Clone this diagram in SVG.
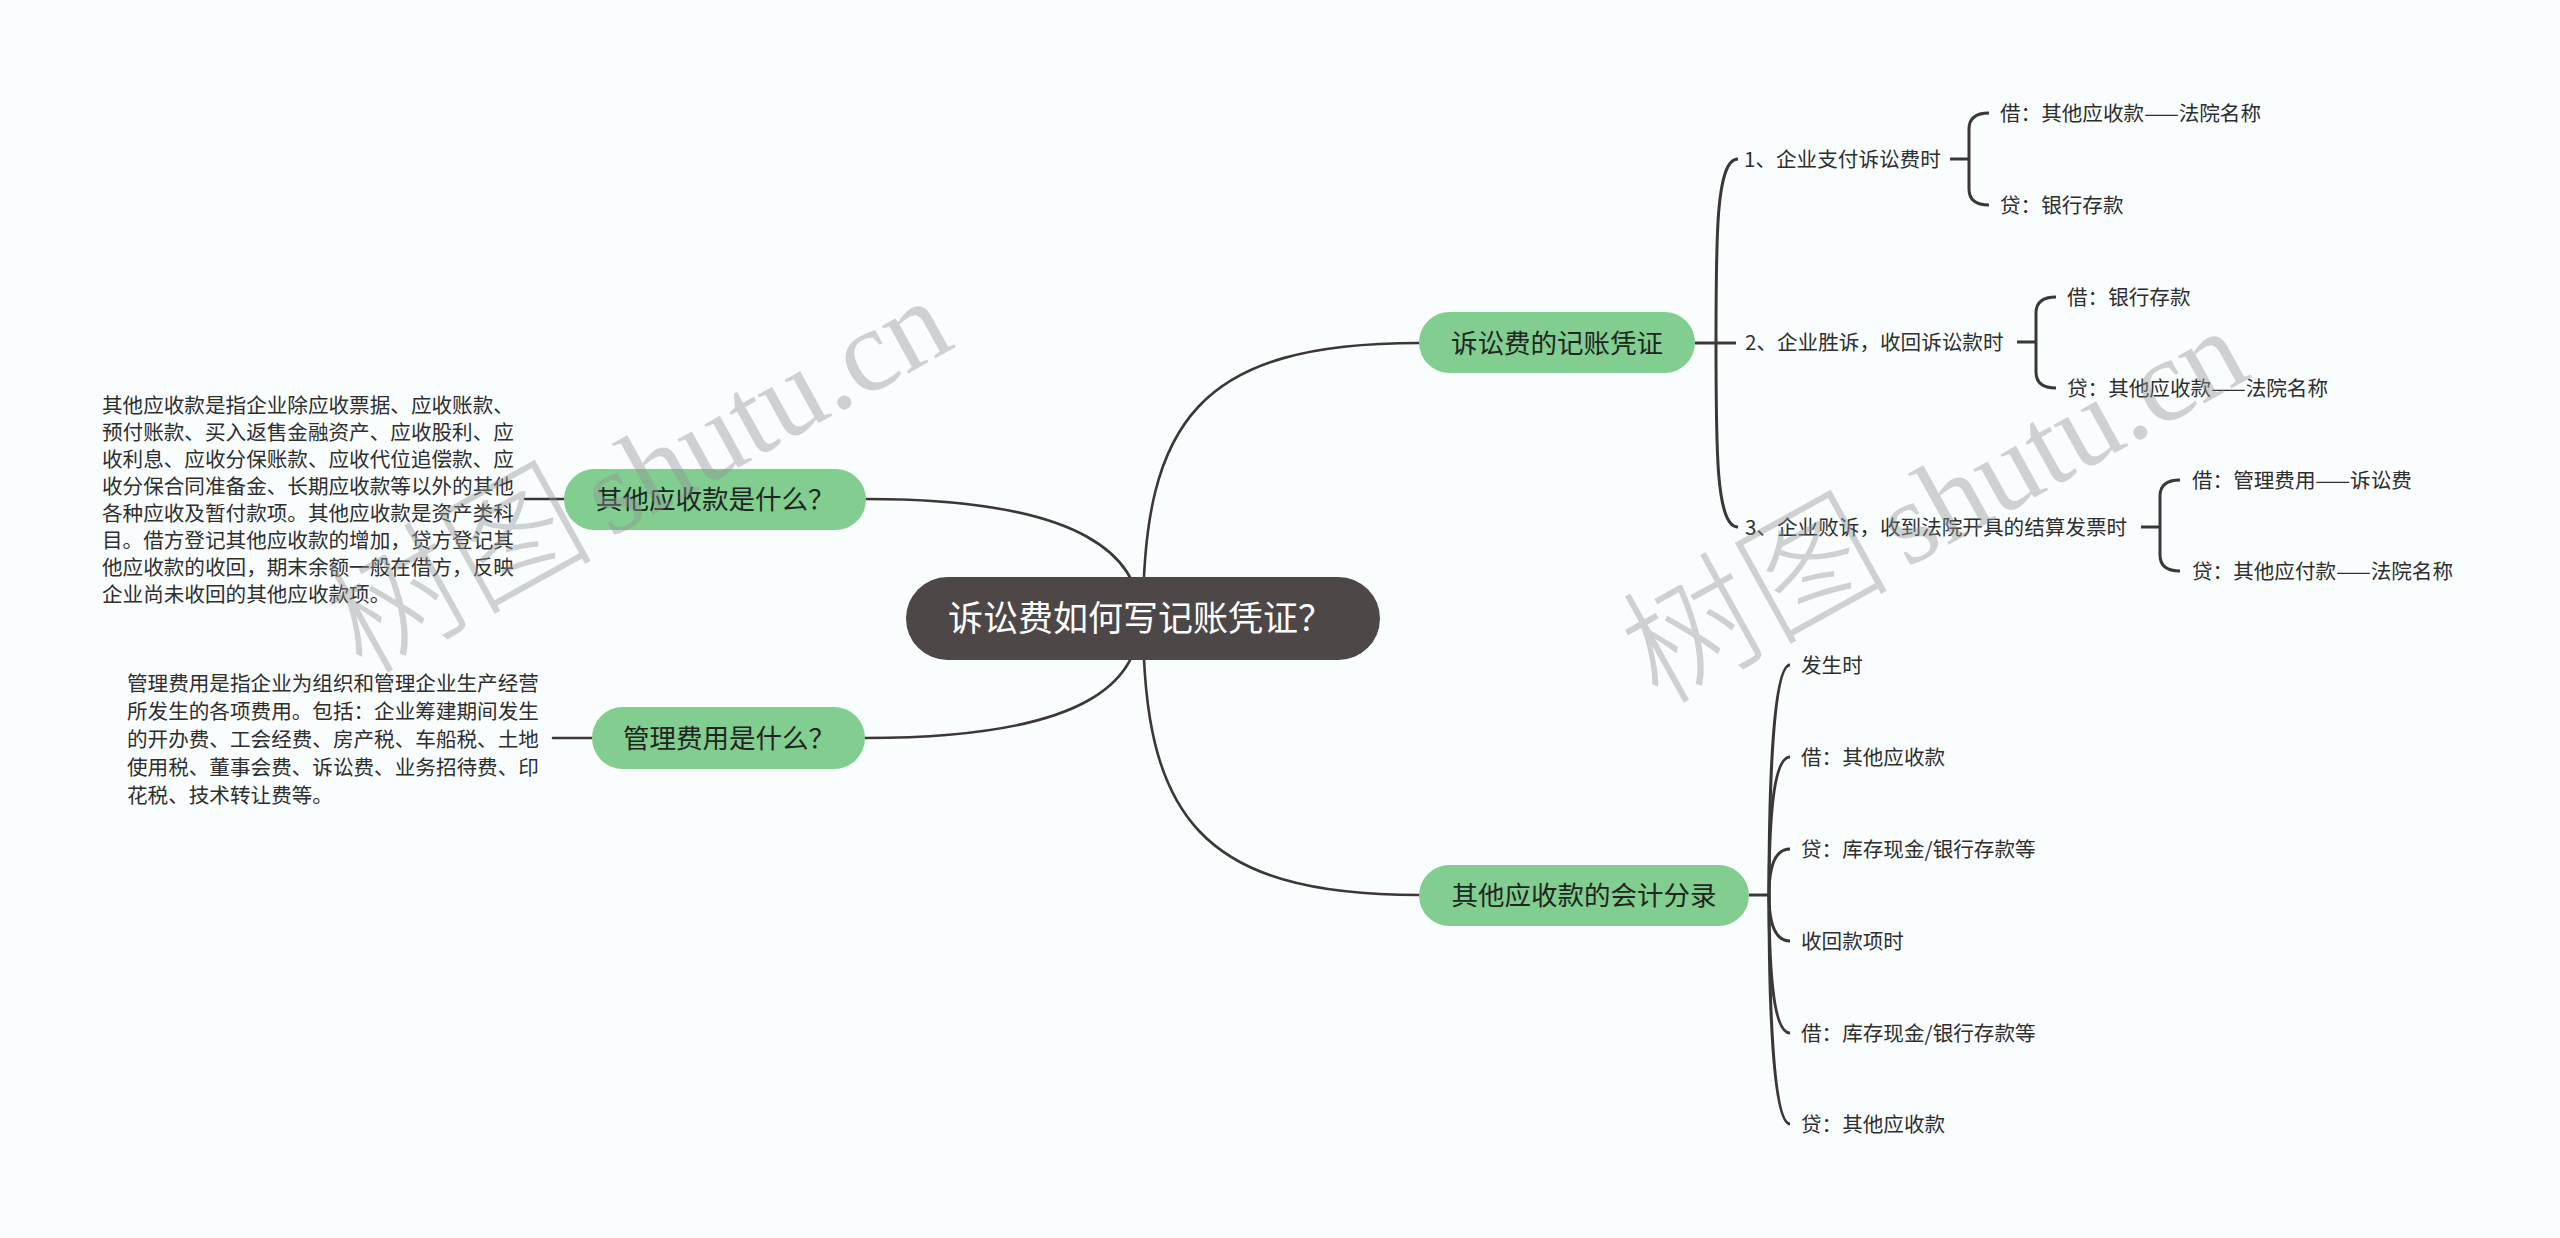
<svg xmlns="http://www.w3.org/2000/svg" width="2560" height="1238" viewBox="0 0 2560 1238">
<style>
.bg{fill:#fafdfe}
.ln{fill:none;stroke:#3b3737;stroke-width:2.6;stroke-linecap:round}
.br{fill:none;stroke:#3b3737;stroke-width:3}
.main{fill:#4d4747}
.sub{fill:#82cd90}
.t{font-family:"Noto Sans CJK SC","Noto Sans",sans-serif;fill:#2e2e2e}
.s{font-size:20.6px}
.n{font-size:26.5px;fill:#1e261f}
.c{font-size:35px;fill:#ffffff}
.wm{fill:#8f9393;fill-opacity:0.42}
.wc{font-family:"Noto Sans CJK SC",sans-serif;font-size:134px;font-weight:300}
.wl{font-family:"Liberation Serif","DejaVu Serif",serif;font-size:118px}
</style>
<rect class="bg" x="0" y="0" width="2560" height="1238"/>
<g id="connectors">
<path class="ln" d="M 1143 618 C 1143 420, 1200 343, 1419 343"/>
<path class="ln" d="M 1143 618 C 1143 816, 1200 895, 1419 895"/>
<path class="ln" d="M 1140 618 C 1140 560, 1090 499, 866 499"/>
<path class="ln" d="M 1140 618 C 1140 680, 1090 738, 865 738"/>
<path class="ln" d="M 564 499 H 525"/>
<path class="ln" d="M 592 738 H 553"/>
<path class="br" d="M 1695 343 H 1716"/>
<path class="br" d="M 1716 343 C 1716 236, 1716 159, 1738 159"/>
<path class="br" d="M 1716 343 H 1736"/>
<path class="br" d="M 1716 343 C 1716 450, 1716 527, 1738 527"/>
<path class="br" d="M 1950 159 H 1969 M 1969 159 V 129 Q 1969 113, 1989 113 M 1969 159 V 189 Q 1969 205, 1989 205"/>
<path class="br" d="M 2017 342 H 2036 M 2036 342 V 313 Q 2036 297, 2056 297 M 2036 342 V 372 Q 2036 388, 2056 388"/>
<path class="br" d="M 2141 527 H 2160 M 2160 527 V 496 Q 2160 480, 2180 480 M 2160 527 V 555 Q 2160 571, 2180 571"/>
<path class="br" d="M 1749 895 H 1769"/>
<path class="br" d="M 1769 895 C 1769 803, 1772 665, 1790 665"/>
<path class="br" d="M 1769 895 C 1769 840, 1771 757, 1790 757"/>
<path class="br" d="M 1769 895 C 1769 877, 1771 849, 1790 849"/>
<path class="br" d="M 1769 895 C 1769 913, 1771 941, 1790 941"/>
<path class="br" d="M 1769 895 C 1769 950, 1771 1033, 1790 1033"/>
<path class="br" d="M 1769 895 C 1769 987, 1772 1124, 1790 1124"/>
</g>
<g id="root">
<rect class="main" x="906" y="577" width="474" height="83" rx="41.5"/>
<text class="t c" x="948" y="631">诉讼费如何写记账凭证？</text>
</g>
<g id="n-voucher">
<rect class="sub" x="1419" y="312" width="276" height="61" rx="30.5"/>
<text class="t n" x="1557" y="353" text-anchor="middle">诉讼费的记账凭证</text>
</g>
<g id="n-entry">
<rect class="sub" x="1419" y="865" width="330" height="61" rx="30.5"/>
<text class="t n" x="1584" y="905" text-anchor="middle">其他应收款的会计分录</text>
</g>
<g id="n-other">
<rect class="sub" x="564" y="469" width="302" height="61" rx="30.5"/>
<text class="t n" x="596" y="509">其他应收款是什么？</text>
</g>
<g id="n-mgmt">
<rect class="sub" x="592" y="707" width="273" height="62" rx="31"/>
<text class="t n" x="623" y="748">管理费用是什么？</text>
</g>
<g id="n-other-desc">
<text class="t s">
<tspan x="102" y="413">其他应收款是指企业除应收票据、应收账款、</tspan>
<tspan x="102" y="440">预付账款、买入返售金融资产、应收股利、应</tspan>
<tspan x="102" y="467">收利息、应收分保账款、应收代位追偿款、应</tspan>
<tspan x="102" y="494">收分保合同准备金、长期应收款等以外的其他</tspan>
<tspan x="102" y="521">各种应收及暂付款项。其他应收款是资产类科</tspan>
<tspan x="102" y="548">目。借方登记其他应收款的增加，贷方登记其</tspan>
<tspan x="102" y="575">他应收款的收回，期末余额一般在借方，反映</tspan>
<tspan x="102" y="602">企业尚未收回的其他应收款项。</tspan>
</text>
</g>
<g id="n-mgmt-desc">
<text class="t s">
<tspan x="127" y="691">管理费用是指企业为组织和管理企业生产经营</tspan>
<tspan x="127" y="719">所发生的各项费用。包括：企业筹建期间发生</tspan>
<tspan x="127" y="747">的开办费、工会经费、房产税、车船税、土地</tspan>
<tspan x="127" y="775">使用税、董事会费、诉讼费、业务招待费、印</tspan>
<tspan x="127" y="803">花税、技术转让费等。</tspan>
</text>
</g>
<g id="n-v1"><text class="t s" x="1744" y="167">1、企业支付诉讼费时</text></g>
<g id="n-v1a"><text class="t s" x="2000" y="121">借：其他应收款——法院名称</text></g>
<g id="n-v1b"><text class="t s" x="2000" y="213">贷：银行存款</text></g>
<g id="n-v2"><text class="t s" x="1745" y="350">2、企业胜诉，收回诉讼款时</text></g>
<g id="n-v2a"><text class="t s" x="2067" y="305">借：银行存款</text></g>
<g id="n-v2b"><text class="t s" x="2067" y="396">贷：其他应收款——法院名称</text></g>
<g id="n-v3"><text class="t s" x="1745" y="535">3、企业败诉，收到法院开具的结算发票时</text></g>
<g id="n-v3a"><text class="t s" x="2192" y="488">借：管理费用——诉讼费</text></g>
<g id="n-v3b"><text class="t s" x="2192" y="579">贷：其他应付款——法院名称</text></g>
<g id="n-e1"><text class="t s" x="1801" y="673">发生时</text></g>
<g id="n-e2"><text class="t s" x="1801" y="765">借：其他应收款</text></g>
<g id="n-e3"><text class="t s" x="1801" y="857">贷：库存现金/银行存款等</text></g>
<g id="n-e4"><text class="t s" x="1801" y="949">收回款项时</text></g>
<g id="n-e5"><text class="t s" x="1801" y="1041">借：库存现金/银行存款等</text></g>
<g id="n-e6"><text class="t s" x="1801" y="1132">贷：其他应收款</text></g>
<g id="watermarks">
<text class="wm" transform="translate(362 676) rotate(-29)"><tspan class="wc">树图</tspan><tspan class="wl" dx="16">shutu.cn</tspan></text>
<text class="wm" transform="translate(1658 706) rotate(-29)"><tspan class="wc">树图</tspan><tspan class="wl" dx="16">shutu.cn</tspan></text>
</g>
</svg>
